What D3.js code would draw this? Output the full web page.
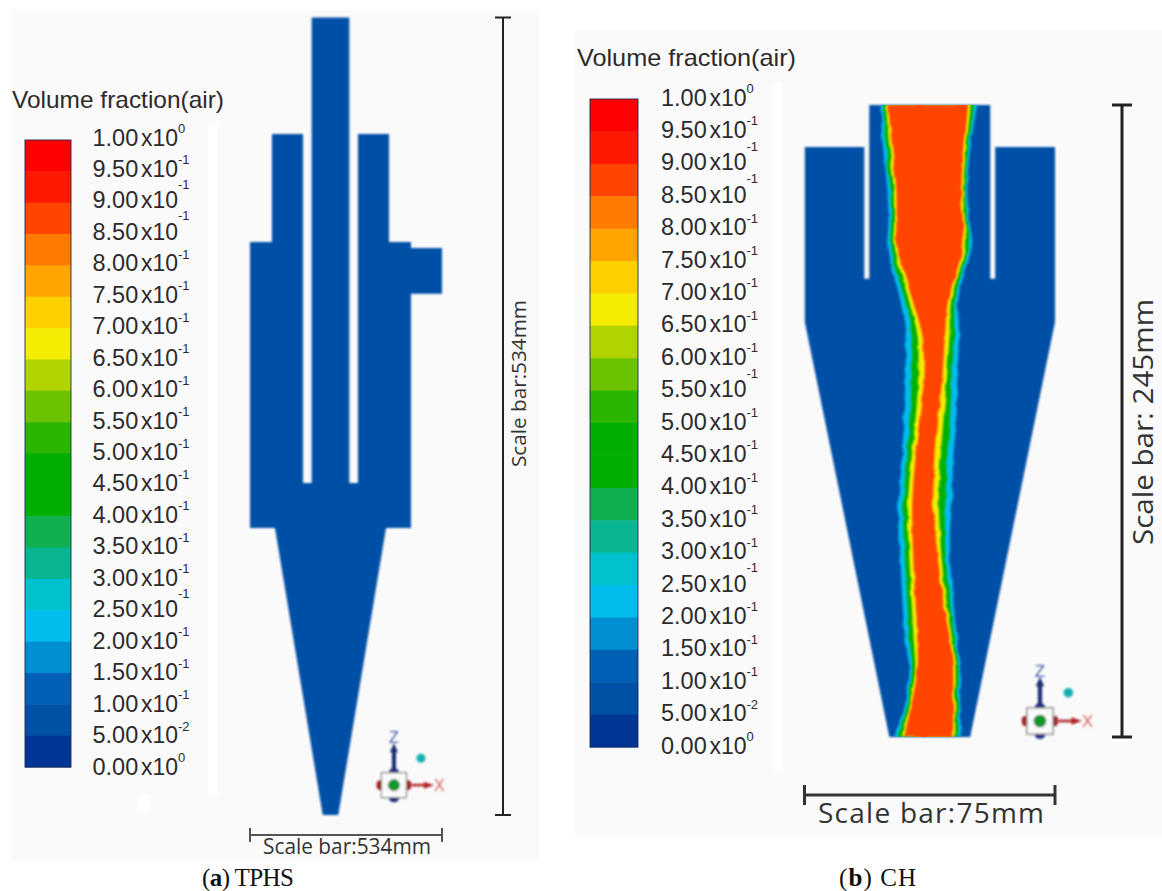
<!DOCTYPE html>
<html>
<head>
<meta charset="utf-8">
<script src="https://cdn.jsdelivr.net/npm/d3@7"></script>
<style>
  html, body { margin: 0; padding: 0; background: #fff; }
  svg { display: block; }
  text { font-family: "Liberation Sans", Arial, sans-serif; fill: #2e2a2a; }
  .bar-label { font-family: "Open Sans", sans-serif; fill: #333; }
  .caption { font-family: "Liberation Serif", serif; font-size: 25px; fill: #111; }
</style>
</head>
<body>
<svg id="chart" width="1162" height="891"></svg>
<script>
// legend
let legendValues = [1, 0.95, 0.9, 0.85, 0.8, 0.75, 0.7, 0.65, 0.6, 0.55, 0.5, 0.45, 0.4, 0.35, 0.3, 0.25, 0.2, 0.15, 0.1, 0.05, 0];
let legendMantissa = ['1.00', '9.50', '9.00', '8.50', '8.00', '7.50', '7.00', '6.50', '6.00', '5.50', '5.00', '4.50', '4.00', '3.50', '3.00', '2.50', '2.00', '1.50', '1.00', '5.00', '0.00'];
let legendExponent = ['0', '-1', '-1', '-1', '-1', '-1', '-1', '-1', '-1', '-1', '-1', '-1', '-1', '-1', '-1', '-1', '-1', '-1', '-1', '-2', '0'];
let bandColors = ['#003596', '#0050a6', '#0060b5', '#008fd0', '#00bdee', '#00c2cf', '#0ab592', '#10b050', '#00b000', '#00b000',
  '#2ab500', '#6cc100', '#b0d400', '#f4ec00', '#ffd000', '#ffa400', '#ff7a00', '#ff4500', '#fe1800', '#fe0000'];
let raisedA = [0.9, 0.85, 0.25];
let raisedB = [0.9, 0.85, 0.55, 0.25];

// TPHS outline, mm from the axis / mm from the top
let tphsX = [-12.6, 12.6, 12.6, 18.4, 18.4, 39.2, 39.2, 53.9, 53.9, 74.7, 74.7, 53.9, 53.9, 37.2, 5.2, -5.2, -37.2, -53.9, -53.9, -39.2, -39.2, -18.4, -18.4, -12.6];
let tphsZ = [0, 0, 311.7, 311.7, 78, 78, 150.3, 150.3, 154.3, 154.3, 185, 185, 341.8, 341.8, 534, 534, 341.8, 341.8, 150.3, 150.3, 78, 78, 311.7, 311.7];

// CH outline
let chX = [-18.1, 18.1, 18.1, 19.6, 19.6, 37.5, 37.5, 12.1, -12.1, -37.4, -37.4, -19.6, -19.6, -18.1];
let chZ = [0, 0, 67.4, 67.4, 16.3, 16.3, 84.1, 245, 245, 84.1, 16.3, 16.3, 67.4, 67.4];

// CH air core contours
let coreZ = [0, 17.4, 32.9, 46.5, 54.3, 64, 75.6, 89.1, 106.6, 122.1, 137.6, 153.1, 164.7, 176.4, 191.9, 207.4, 219, 230.6, 245];
let cyanLeft = [-14.8, -13.9, -12.7, -12.4, -12.7, -11.2, -8.8, -7.3, -7.3, -7.9, -8.2, -9.4, -9.4, -8.8, -8.2, -7.3, -6.1, -7.3, -10.3];
let greenLeft = [-14, -13, -11.8, -11.6, -11.8, -10.1, -7.5, -5.5, -5.4, -6.1, -6.8, -7.9, -7.9, -7.4, -6.8, -6, -5.3, -6.6, -9.4];
let yellowLeft = [-13.1, -12, -10.8, -10.7, -10.8, -8.9, -6.3, -3.7, -3.5, -4.3, -5.5, -6.5, -6.5, -6.1, -5.5, -4.8, -4.4, -5.8, -8.4];
let redLeft = [-12.4, -11.2, -10, -10, -10, -7.9, -5.2, -2.2, -1.9, -2.8, -4.3, -5.2, -5.2, -4.9, -4.3, -3.7, -3.7, -5.2, -7.6];
let redRight = [11.5, 10.3, 9.4, 10, 10, 8.2, 5.5, 4.6, 3.7, 2.5, 1.6, 1, 1.6, 2.5, 4, 6.1, 7, 7, 7];
let yellowRight = [12.3, 10.9, 10, 10.6, 10.8, 8.9, 6.4, 5.9, 5.1, 4.1, 3.2, 2.7, 3, 3.6, 4.9, 6.7, 7.7, 7.6, 7.7];
let greenRight = [13.3, 11.5, 10.6, 11.4, 11.8, 9.8, 7.5, 7.3, 6.6, 6, 5.1, 4.7, 4.5, 4.8, 6, 7.5, 8.6, 8.4, 8.6];
let cyanRight = [14.2, 12.1, 11.2, 12.1, 12.7, 10.6, 8.5, 8.8, 8.2, 7.9, 7, 6.7, 6.1, 6.1, 7, 8.2, 9.4, 9.1, 9.4];

let svg = d3.select('#chart');
let defs = svg.append('defs');
defs.append('filter').attr('id', 'soft')
  .append('feGaussianBlur').attr('stdDeviation', 0.8);

// rough mesh edge of the contours
let rough = defs.append('filter').attr('id', 'rough')
  .attr('x', '-10%').attr('y', '-5%').attr('width', '120%').attr('height', '110%');
rough.append('feTurbulence').attr('type', 'fractalNoise').attr('baseFrequency', 0.07)
  .attr('numOctaves', 2).attr('seed', 4).attr('result', 'n');
rough.append('feDisplacementMap').attr('in', 'SourceGraphic').attr('in2', 'n').attr('scale', 4)
  .attr('xChannelSelector', 'R').attr('yChannelSelector', 'G').attr('result', 'd');
rough.append('feGaussianBlur').attr('in', 'd').attr('stdDeviation', 1);

let color = d3.scaleThreshold()
  .domain(legendValues.slice().reverse().slice(1, 20))
  .range(bandColors);

// panel backgrounds
svg.append('rect').attr('x', 11).attr('y', 10).attr('width', 528).attr('height', 850).attr('fill', '#fafafa');
svg.append('rect').attr('x', 575).attr('y', 30).attr('width', 587).attr('height', 808).attr('fill', '#fafafa');
svg.append('rect').attr('x', 208).attr('y', 124).attr('width', 10).attr('height', 670).attr('fill', '#fff');
svg.append('rect').attr('x', 137).attr('y', 795).attr('width', 13).attr('height', 15).attr('fill', '#fff');
svg.append('rect').attr('x', 773).attr('y', 82).attr('width', 10).attr('height', 688).attr('fill', '#fff');

let line = d3.line().x(d => d[0]).y(d => d[1]);

function drawLegend(o) {
  let y = d3.scaleLinear().domain([0, 1]).range(o.barRange);
  let labelY = d3.scaleLinear().domain([0, 1]).range(o.labelRange);
  let g = svg.append('g');

  g.selectAll('rect.band')
    .data(d3.range(20))
    .enter()
    .append('rect')
    .attr('class', 'band')
    .attr('x', o.barX)
    .attr('width', o.barW)
    .attr('y', i => y(legendValues[i]))
    .attr('height', i => y(legendValues[i + 1]) - y(legendValues[i]) + 0.5)
    .attr('fill', i => color(legendValues[i] - 0.01));

  g.append('rect')
    .attr('x', o.barX).attr('y', o.barRange[1])
    .attr('width', o.barW).attr('height', o.barRange[0] - o.barRange[1])
    .attr('fill', 'none').attr('stroke', '#1c2c4c').attr('stroke-opacity', 0.75).attr('stroke-width', 1.2);

  g.append('text')
    .attr('x', o.titleX).attr('y', o.titleY)
    .attr('font-size', 24).attr('textLength', o.titleW).attr('lengthAdjust', 'spacingAndGlyphs')
    .text('Volume fraction(air)');

  let labels = g.selectAll('g.tick')
    .data(legendValues)
    .enter()
    .append('g')
    .attr('class', 'tick')
    .attr('transform', d => 'translate(0,' + labelY(d) + ')');

  labels.append('text')
    .attr('x', o.textX).attr('dy', 8.5).attr('font-size', 23.5)
    .text((d, i) => legendMantissa[i]);
  labels.append('text')
    .attr('x', o.textX + 48.5).attr('dy', 8.5).attr('font-size', 23)
    .text('x10');
  labels.append('text')
    .attr('x', o.textX + 85.5)
    .attr('dy', d => o.raised.indexOf(d) >= 0 ? -11 : -4)
    .attr('font-size', 13)
    .text((d, i) => legendExponent[i]);
}

drawLegend({ barX: 25, barW: 46, barRange: [767, 140], labelRange: [766, 137], titleX: 12, titleY: 108, titleW: 212, textX: 92.5, raised: raisedA });
drawLegend({ barX: 590, barW: 48, barRange: [747, 99], labelRange: [745, 97], titleX: 577, titleY: 66, titleW: 219, textX: 661, raised: raisedB });

// TPHS
let ax = d3.scaleLinear().domain([-100, 100]).range([181.2, 479.8]);
let az = d3.scaleLinear().domain([0, 534]).range([17.5, 815]);

svg.append('path')
  .attr('d', line(tphsX.map((v, i) => [ax(v), az(tphsZ[i])])) + 'Z')
  .attr('fill', color(0.07))
  .attr('filter', 'url(#soft)');

// CH
let bx = d3.scaleLinear().domain([-37.5, 37.5]).range([804.5, 1055]);
let bz = d3.scaleLinear().domain([0, 245]).range([105, 737]);

svg.append('path')
  .attr('d', line(chX.map((v, i) => [bx(v), bz(chZ[i])])) + 'Z')
  .attr('fill', color(0.07))
  .attr('filter', 'url(#soft)');

let contours = [
  { left: cyanLeft, right: cyanRight, level: 0.22 },
  { left: greenLeft, right: greenRight, level: 0.47 },
  { left: yellowLeft, right: yellowRight, level: 0.67 },
  { left: redLeft, right: redRight, level: 0.87 }
];

defs.append('clipPath').attr('id', 'coreClip')
  .append('rect')
  .attr('x', bx(-37.5)).attr('width', bx(37.5) - bx(-37.5))
  .attr('y', bz(0)).attr('height', bz(245) - bz(0));

svg.append('g')
  .attr('clip-path', 'url(#coreClip)')
  .selectAll('path')
  .data(contours)
  .enter()
  .append('path')
  .attr('d', d => d3.area()
    .curve(d3.curveCatmullRom)
    .y((z) => bz(z))
    .x0((z, i) => bx(d.left[i]))
    .x1((z, i) => bx(d.right[i]))(coreZ))
  .attr('fill', d => color(d.level))
  .attr('filter', 'url(#rough)');

// scale bars
function drawBar(x1, y1, x2, y2, cap, width, stroke) {
  let g = svg.append('g').attr('stroke', stroke).attr('stroke-width', width);
  g.append('line').attr('x1', x1).attr('y1', y1).attr('x2', x2).attr('y2', y2);
  if (x1 == x2) {
    g.append('line').attr('x1', x1 - cap).attr('x2', x1 + cap).attr('y1', y1).attr('y2', y1);
    g.append('line').attr('x1', x1 - cap).attr('x2', x1 + cap).attr('y1', y2).attr('y2', y2);
  } else {
    g.append('line').attr('x1', x1).attr('x2', x1).attr('y1', y1 - cap).attr('y2', y1 + cap);
    g.append('line').attr('x1', x2).attr('x2', x2).attr('y1', y1 - cap).attr('y2', y1 + cap);
  }
}

drawBar(503, az(0), 503, az(534), 8, 2, '#222');
drawBar(ax(-53.9), 835, ax(74.7), 835, 7, 2, '#555');
drawBar(1122, bz(0), 1122, bz(245), 10, 3, '#222');
drawBar(bx(-37.5), 795, bx(37.5), 795, 10, 3, '#333');

svg.append('text').attr('class', 'bar-label')
  .attr('transform', 'translate(526,467) rotate(-90)')
  .attr('font-size', 20).attr('textLength', 167).attr('lengthAdjust', 'spacingAndGlyphs')
  .text('Scale bar:534mm');
svg.append('text').attr('class', 'bar-label')
  .attr('x', 263).attr('y', 854)
  .attr('font-size', 21).attr('textLength', 168).attr('lengthAdjust', 'spacingAndGlyphs')
  .text('Scale bar:534mm');
svg.append('text').attr('class', 'bar-label')
  .attr('transform', 'translate(1153,545) rotate(-90)')
  .attr('font-size', 27).attr('textLength', 246).attr('lengthAdjust', 'spacingAndGlyphs')
  .text('Scale bar: 245mm');
svg.append('text').attr('class', 'bar-label')
  .attr('x', 818).attr('y', 823)
  .attr('font-size', 28).attr('textLength', 226)
  .text('Scale bar:75mm');

// axis triad
function drawTriad(cx, cy, s) {
  let g = svg.append('g').attr('transform', 'translate(' + cx + ',' + cy + ') scale(' + s + ')').attr('filter', 'url(#soft)');
  g.append('ellipse').attr('cy', -13).attr('rx', 5).attr('ry', 4).attr('fill', '#1a2a80');
  g.append('ellipse').attr('cy', 13).attr('rx', 5).attr('ry', 4).attr('fill', '#1a2a80');
  g.append('ellipse').attr('cx', -14).attr('rx', 3.5).attr('ry', 5).attr('fill', '#a02020');
  g.append('ellipse').attr('cx', 14).attr('rx', 3.5).attr('ry', 5).attr('fill', '#a02020');
  g.append('rect').attr('x', -12.5).attr('y', -12.5).attr('width', 25).attr('height', 25)
    .attr('fill', '#fafafa').attr('stroke', '#777').attr('stroke-width', 1.2);
  g.append('circle').attr('r', 5.5).attr('fill', '#0a9a20').attr('stroke', '#0a6a30').attr('stroke-width', 1);
  g.append('line').attr('y1', -16).attr('y2', -36).attr('stroke', '#1a2a70').attr('stroke-width', 4);
  g.append('path').attr('d', 'M-4,-33L0,-42L4,-33Z').attr('fill', '#1a2a70');
  g.append('line').attr('x1', 18).attr('x2', 34).attr('stroke', '#b02020').attr('stroke-width', 2.5);
  g.append('path').attr('d', 'M30,-3.5L40,0L30,3.5Z').attr('fill', '#b02020');
  g.append('circle').attr('cx', 27).attr('cy', -27).attr('r', 4.5).attr('fill', '#12b0b0');
  g.append('text').attr('x', -5).attr('y', -42).attr('font-size', 16).style('fill', '#4a5aa8').text('Z');
  g.append('text').attr('x', 40).attr('y', 6).attr('font-size', 16).style('fill', '#d86060').text('X');
}

drawTriad(ax(42.5), az(514), 1);
drawTriad(bx(33), bz(238.8), 1.05);

// captions
let capA = svg.append('text').attr('class', 'caption').attr('x', 202).attr('y', 886).attr('textLength', 92);
capA.append('tspan').text('(');
capA.append('tspan').attr('font-weight', 'bold').text('a');
capA.append('tspan').text(') TPHS');
let capB = svg.append('text').attr('class', 'caption').attr('x', 839).attr('y', 886).attr('textLength', 77);
capB.append('tspan').text('(');
capB.append('tspan').attr('font-weight', 'bold').text('b');
capB.append('tspan').text(') CH');
</script>
</body>
</html>
